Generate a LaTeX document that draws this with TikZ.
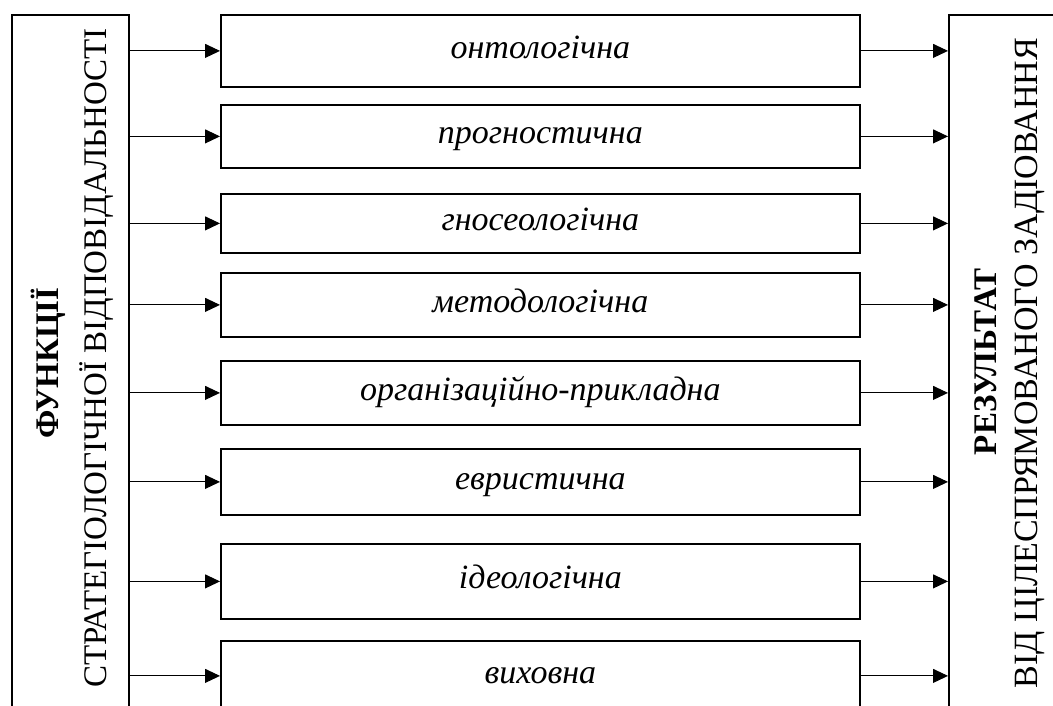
\documentclass[tikz,border=0pt]{standalone}
\usepackage{fontspec}
\setmainfont{Liberation Serif}
\usetikzlibrary{arrows.meta}
\begin{document}
\begin{tikzpicture}[x=1pt,y=-1pt,
  frame/.style={draw=black,line width=1.8pt,rectangle,inner sep=0pt},
  fbox/.style={frame,minimum width=639pt,anchor=north west,text height=15pt,text depth=0pt,font=\fontsize{34}{38}\selectfont\itshape},
  conn/.style={line width=1pt,-{Triangle[length=15pt,width=14pt]}},
  vtxt/.style={rotate=90,font=\fontsize{33}{36}\selectfont,inner sep=0pt},
  vbold/.style={vtxt,font=\fontsize{33}{36}\selectfont\bfseries}]
\clip (0,0) rectangle (1053,706);
\node[frame,anchor=north west,minimum width=117pt,minimum height=710pt] (L) at (11,14) {};
\node[frame,anchor=north west,minimum width=120pt,minimum height=710pt] (R) at (948,14) {};
\node[vbold] (l1) at (48,363) {ФУНКЦІЇ};
\node[vtxt] (l2) at (97,358) {СТРАТЕГІОЛОГІЧНОЇ ВІДПОВІДАЛЬНОСТІ};
\node[vbold] (r1) at (986,362) {РЕЗУЛЬТАТ};
\node[vtxt,font=\fontsize{34}{36}\selectfont] (r2) at (1030,363) {ВІД ЦІЛЕСПРЯМОВАНОГО ЗАДІОВАННЯ};
\node[fbox,minimum height=72pt] (m1) at (220,14) {онтологічна};
\node[fbox,minimum height=63pt] (m2) at (220,104) {прогностична};
\node[fbox,minimum height=59pt] (m3) at (220,193) {гносеологічна};
\node[fbox,minimum height=64pt] (m4) at (220,272) {методологічна};
\node[fbox,minimum height=64pt] (m5) at (220,360) {організаційно-прикладна};
\node[fbox,minimum height=66pt] (m6) at (220,448) {евристична};
\node[fbox,minimum height=75pt] (m7) at (220,543) {ідеологічна};
\node[fbox,minimum height=70pt] (m8) at (220,640) {виховна};
\foreach \i in {1,...,8}{
  \draw[conn] (L.east |- m\i.west) -- (m\i.west);
  \draw[conn] (m\i.east) -- (R.west |- m\i.east);
}
\end{tikzpicture}
\end{document}
